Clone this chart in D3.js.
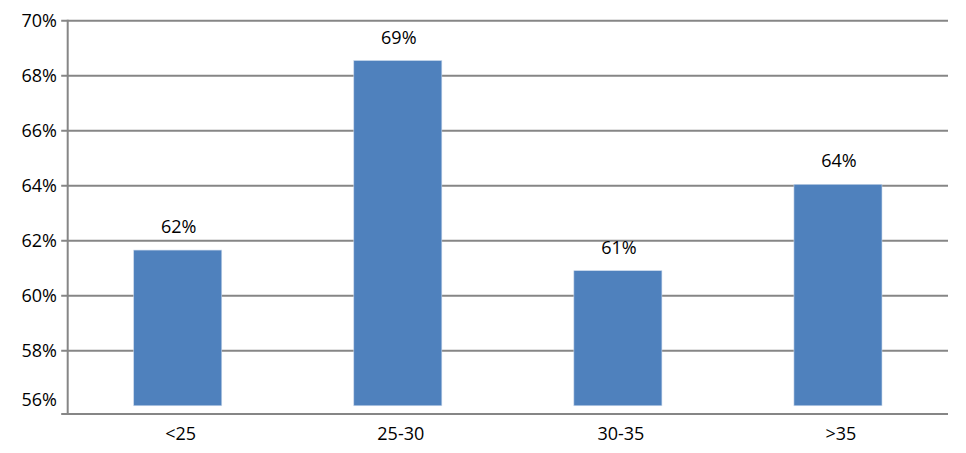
<!DOCTYPE html>
<html>
<head>
<meta charset="utf-8">
<script src="https://cdn.jsdelivr.net/npm/d3@7"></script>
<style>
  html, body { margin: 0; padding: 0; background: #fff; }
  text { font-family: "Open Sans", sans-serif; fill: #000; }
</style>
</head>
<body>
<div id="chart"></div>
<script>
"use strict";

const categories = ["<25", "25-30", "30-35", ">35"];
const values = [61.66, 68.55, 60.91, 64.05];
const value_labels = ["62%", "69%", "61%", "64%"];
const y_ticks = [56, 58, 60, 62, 64, 66, 68, 70];

const width = 966, height = 453;
const plot_left = 67.7, plot_right = 948, plot_top = 20.7, plot_bottom = 414;
const line_color = "#868686";

const svg = d3.select("#chart").append("svg")
    .attr("width", width)
    .attr("height", height);

const x = d3.scaleBand()
    .domain(categories)
    .range([plot_left, plot_right])
    .paddingInner(0.6)
    .paddingOuter(0.3);

const y = d3.scaleLinear()
    .domain([55.7, 70])
    .range([plot_bottom, plot_top]);

// gridlines (with the small tick stub left of the axis)
svg.append("g").selectAll("line")
    .data(y_ticks.filter(t => t > 56))
    .join("line")
    .attr("x1", plot_left - 6.5)
    .attr("x2", plot_right)
    .attr("y1", d => y(d))
    .attr("y2", d => y(d))
    .attr("stroke", line_color)
    .attr("stroke-width", 2);

// bars
svg.append("g").selectAll("rect")
    .data(values)
    .join("rect")
    .attr("x", (d, i) => x(categories[i]))
    .attr("width", x.bandwidth())
    .attr("y", d => y(d))
    .attr("height", d => y(56) - y(d))
    .attr("fill", "#4F81BD")
    .attr("stroke", "#C6D6EA")
    .attr("stroke-width", 0.6);

// axes lines
svg.append("line")
    .attr("x1", plot_left).attr("x2", plot_left)
    .attr("y1", plot_top - 1).attr("y2", plot_bottom + 1)
    .attr("stroke", line_color).attr("stroke-width", 2);

svg.append("line")
    .attr("x1", plot_left - 6.5).attr("x2", plot_right)
    .attr("y1", plot_bottom).attr("y2", plot_bottom)
    .attr("stroke", line_color).attr("stroke-width", 2);

// y tick labels
svg.append("g").selectAll("text")
    .data(y_ticks)
    .join("text")
    .attr("x", 57)
    .attr("y", d => d === 56 ? y(d) - 6 : y(d))
    .attr("dy", "0.35em")
    .attr("text-anchor", "end")
    .style("font-size", "18px")
    .text(d => d + "%");

// x labels
svg.append("g").selectAll("text")
    .data(categories)
    .join("text")
    .attr("x", d => x(d) + x.bandwidth() / 2 + 3)
    .attr("y", 440)
    .attr("text-anchor", "middle")
    .style("font-size", "18px")
    .text(d => d);

// value labels
svg.append("g").selectAll("text")
    .data(values)
    .join("text")
    .attr("x", (d, i) => x(categories[i]) + x.bandwidth() / 2 + 1)
    .attr("y", d => y(d) - 17)
    .attr("text-anchor", "middle")
    .style("font-size", "18px")
    .text((d, i) => value_labels[i]);
</script>
</body>
</html>
